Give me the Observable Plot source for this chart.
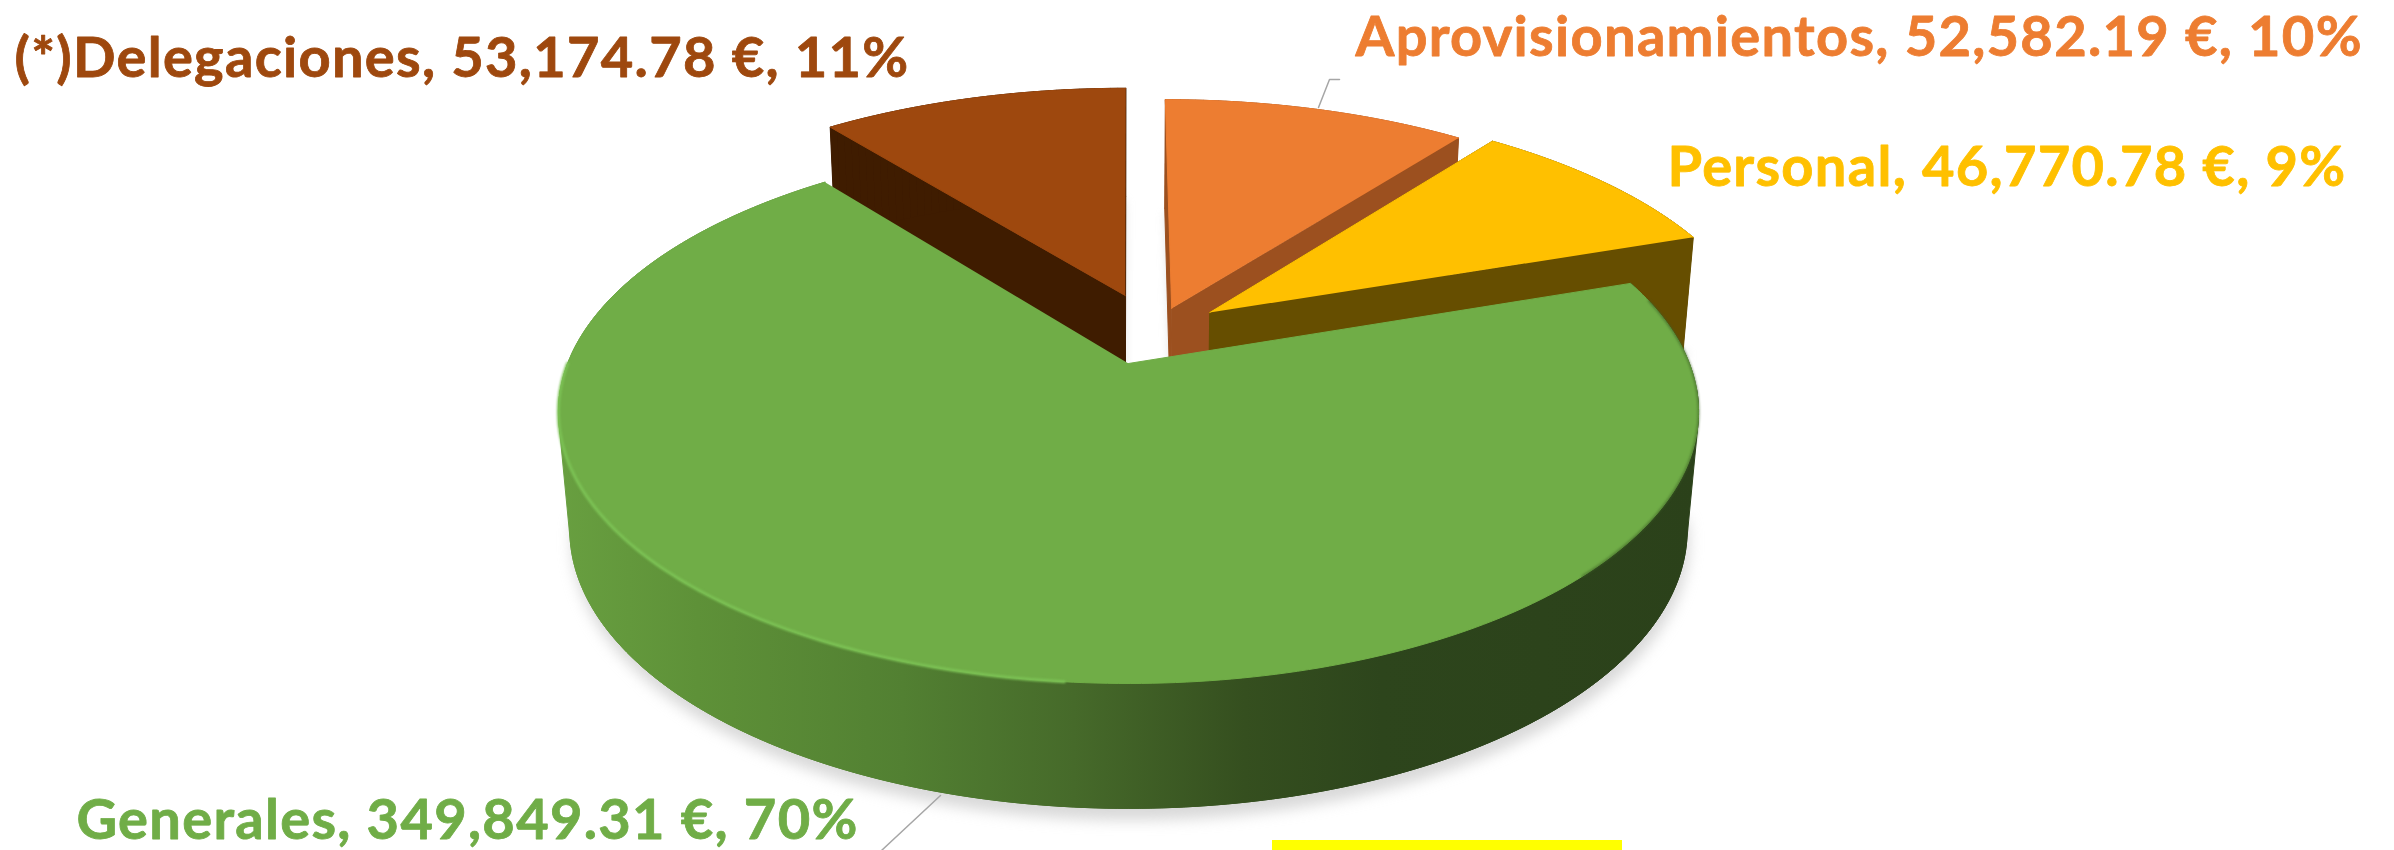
<!DOCTYPE html>
<html><head><meta charset="utf-8">
<style>html,body{margin:0;padding:0;background:#fff;overflow:hidden}svg{display:block}</style>
<script src="https://cdn.jsdelivr.net/npm/d3@7"></script>
<script src="https://cdn.jsdelivr.net/npm/@observablehq/plot@0.6"></script>
</head><body>
<div id="chart"></div>
<script>
// data, in pie order, clockwise from 12 o'clock
const names = ["Aprovisionamientos", "Personal", "Generales", "(*)Delegaciones"];
const amounts = [52582.19, 46770.78, 349849.31, 53174.78];

// styling
const topColors = ["#ed7d31", "#ffc000", "#70ad47", "#9e480e"];
const sideColors = ["#9c501f", "#664e00", "#2c431b", "#3f1c00"];
const labelX = [1355, 1667, 76, 14];
const labelY = [55, 185, 838, 76];
// slice explosion in disc units
const shiftU = [0.08, 0.15, 0, -0.006];
const shiftV = [-0.217, -0.201, 0, -0.271];
const radius = [1.006, 1.005, 1, 1.017];

// perspective view of the disc's top and bottom faces
const view = {
  top: {k: 560.9, y0: 363, a: 198, c: -0.1786},
  bottom: {k: 550, y0: 480, a: 186, c: -0.1756}
};
const cx = 1128;
const project = (u, v, f) => {
  const p = view[f], w = 1 + p.c * v;
  return [cx + p.k * u / w, (p.y0 + p.a * v) / w];
};

const total = d3.sum(amounts);
const ends = d3.cumsum(amounts).map(d => d / total * 2 * Math.PI);
const starts = ends.map((d, i) => i ? ends[i - 1] : 0);
const fmt = d3.format(",.2f");

function rim(i, a0 = starts[i], a1 = ends[i]) {
  const n = Math.max(2, Math.ceil((a1 - a0) * 60));
  return d3.range(n + 1).map(j => {
    const a = a0 + (a1 - a0) * j / n;
    return [shiftU[i] + radius[i] * Math.sin(a), shiftV[i] - radius[i] * Math.cos(a)];
  });
}
const apex = i => [shiftU[i], shiftV[i]];
const face = (pts, f) => pts.map(([u, v]) => { const [x, y] = project(u, v, f); return {x, y}; });
const hull = rows => d3.polygonHull(rows.map(r => [r.x, r.y])).map(([x, y]) => ({x, y}));

const poly = (rows, opts) => Plot.line(rows, {x: "x", y: "y", curve: "linear", ...opts});
const solid = (rows, color, extra = {}) => poly(rows, {fill: color, stroke: color, strokeWidth: 1, ...extra});

function sideQuads(i) {
  const outline = [apex(i), ...rim(i), apex(i)];
  const rows = [];
  d3.pairs(outline).forEach(([p, q], j) => {
    const t = face([p, q], "top"), b = face([q, p], "bottom");
    [...t, ...b].forEach(r => rows.push({...r, z: j}));
  });
  return rows;
}
function slice(i) {
  return [
    solid(sideQuads(i), sideColors[i], {z: "z"}),
    solid(face([apex(i), ...rim(i)], "top"), topColors[i])
  ];
}
function shadow(rows, dx, dy, blur = 6, opacity = 0.5) {
  return poly(rows.map(r => ({x: r.x + dx, y: r.y + dy})),
    {fill: "#b4b4b4", stroke: "none", fillOpacity: opacity, imageFilter: `blur(${blur}px)`});
}

const G = 2;
const bandTop = face(rim(G), "top");
const bandBottom = face(rim(G), "bottom").reverse();
const frontArc = rim(G, Math.PI * 0.53, Math.PI * 1.47);
const wallHull = hull([...face(frontArc, "top"), ...face(frontArc, "bottom")]);

const defs = () => {
  const d = d3.create("svg:defs");
  const g = d.append("linearGradient").attr("id", "wall").attr("gradientUnits", "userSpaceOnUse")
    .attr("x1", 560).attr("x2", 1700).attr("y1", 0).attr("y2", 0);
  [[0, "#689f40"], [0.12, "#5e9138"], [0.3, "#528032"], [0.45, "#466a2a"], [0.6, "#354f1f"], [0.72, "#2d451c"], [1, "#2b411a"]]
    .forEach(([o, c]) => g.append("stop").attr("offset", o).attr("stop-color", c));
  return d.node();
};

const labels = names.map((n, i) => ({
  text: `${n}, ${fmt(amounts[i])} €, ${Math.round(amounts[i] / total * 100)}%`,
  x: labelX[i], y: labelY[i], color: topColors[i]
}));

const leader1 = [{x: 1318, y: 107}, {x: 1329, y: 79}, {x: 1339, y: 79}];
const leader2 = [{x: 940, y: 795}, {x: 881, y: 850}];
const highlight = [{x1: 1272, x2: 1622, y1: 840, y2: 850}];

const plot = Plot.plot({
  width: 2394, height: 850,
  margin: 0,
  style: {letterSpacing: "1.3px"},
  x: {domain: [0, 2394], range: [0, 2394], axis: null},
  y: {domain: [0, 850], range: [0, 850], axis: null},
  marks: [
    defs,
    shadow(hull(face(frontArc, "bottom")), 2, 12, 7),
    shadow(face([apex(0), ...rim(0)], "bottom"), 0, 4, 4, 0.35),
    shadow(face([apex(1), ...rim(1)], "bottom"), 6, 6, 5),
    shadow(face([apex(3), ...rim(3)], "bottom"), 0, 4, 4, 0.35),
    ...slice(3),
    ...slice(0),
    ...slice(1),
    poly(wallHull, {fill: "url(#wall)", stroke: "url(#wall)", strokeWidth: 1}),
    poly([...bandTop, ...bandBottom], {fill: "url(#wall)", stroke: "url(#wall)", strokeWidth: 1}),
    solid(face([apex(G), ...rim(G)], "top"), topColors[G]),
    poly(face(rim(G, Math.PI * 1.03, Math.PI * 1.5), "top"), {stroke: "#7cc255", strokeWidth: 3, imageFilter: "blur(1px)"}),
    poly(face(rim(G, Math.PI * 0.42, Math.PI * 0.75), "top"), {stroke: "#3d6126", strokeWidth: 2, strokeOpacity: 0.6, imageFilter: "blur(1px)"}),
    poly(leader1, {stroke: "#a6a6a6", strokeWidth: 1.5}),
    poly(leader2, {stroke: "#a6a6a6", strokeWidth: 1.5}),
    Plot.rect(highlight, {x1: "x1", x2: "x2", y1: "y1", y2: "y2", fill: "#ffff00"}),
    Plot.text(labels, {x: "x", y: "y", text: "text", fill: d => d.color, stroke: d => d.color, strokeWidth: 0.8,
      textAnchor: "start", lineAnchor: "bottom", fontFamily: "Lato", fontWeight: 700, fontSize: 56})
  ]
});
document.getElementById("chart").append(plot);
</script>
</body></html>
